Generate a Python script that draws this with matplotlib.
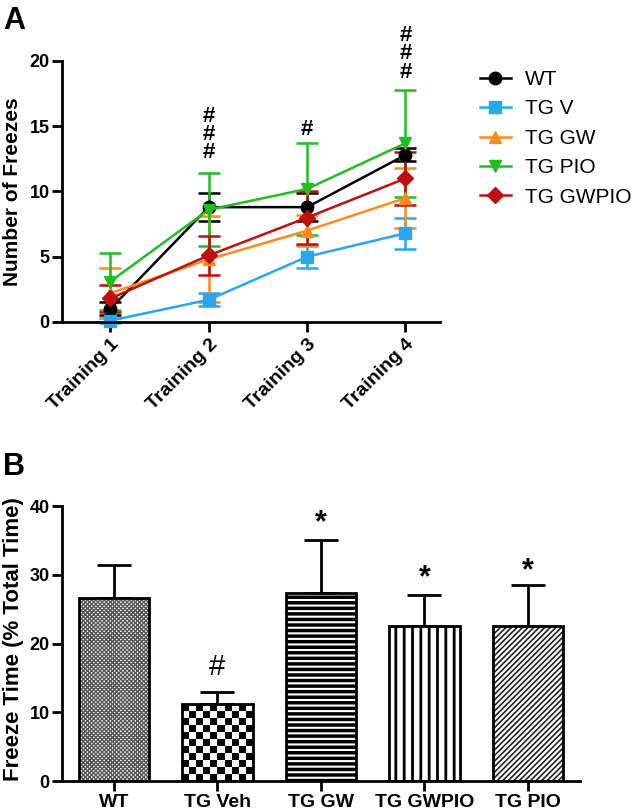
import matplotlib.pyplot as plt
from matplotlib.lines import Line2D
import numpy as np

plt.rcParams['font.family'] = ['Liberation Sans', 'DejaVu Sans']
plt.rcParams['hatch.linewidth'] = 1.0

# panel A data
sessions = ['Training 1', 'Training 2', 'Training 3', 'Training 4']
groups = ['WT', 'TG V', 'TG GW', 'TG PIO', 'TG GWPIO']
wt_mean = [1.0, 8.8, 8.8, 12.8]
wt_err = [0.5, 1.1, 1.1, 0.5]
tgv_mean = [0.1, 1.7, 5.0, 6.8]
tgv_err = [0.2, 0.5, 0.9, 1.2]
tggw_mean = [2.2, 4.8, 7.0, 9.5]
tggw_err = [1.9, 3.3, 1.2, 2.3]
tgpio_mean = [3.1, 8.6, 10.2, 13.7]
tgpio_err = [2.2, 2.8, 3.5, 4.1]
tggwpio_mean = [1.8, 5.1, 8.0, 11.0]
tggwpio_err = [1.0, 1.5, 2.0, 2.0]
hash_counts = [0, 3, 1, 3]
hash_base = [0, 12.9, 14.7, 19.1]

# panel B data
bar_labels = ['WT', 'TG Veh', 'TG GW', 'TG GWPIO', 'TG PIO']
bar_mean = [26.6, 11.2, 27.3, 22.5, 22.5]
bar_err = [4.8, 1.8, 7.8, 4.6, 6.0]
bar_marks = ['', '#', '*', '*', '*']
mark_y = [0, 16.6, 38.7, 30.7, 31.7]

fig = plt.figure(figsize=(6.33, 8.1), dpi=100)

# ---------------- panel A
ax1 = fig.add_axes([0.098, 0.6025, 0.597, 0.3222])
x = np.arange(1, 5)
series = [
    ('WT', wt_mean, wt_err, 'black', 'o', 9),
    ('TG V', tgv_mean, tgv_err, '#2aa6ee', 's', 9),
    ('TG GW', tggw_mean, tggw_err, '#ff8a1c', '^', 9),
    ('TG PIO', tgpio_mean, tgpio_err, '#1ec01e', 'v', 9),
    ('TG GWPIO', tggwpio_mean, tggwpio_err, '#c00f0f', 'D', 8),
]
handles = []
for name, m, e, c, mk, ms in series:
    ax1.errorbar(x, m, yerr=e, color=c, marker=mk, ms=ms, lw=1.8,
                 elinewidth=1.8, capsize=8, capthick=1.8, clip_on=False)
    handles.append(Line2D([], [], color=c, marker=mk, ms=ms, lw=1.8))

# stacked significance marks, one text per time point
for xi, n, yb in zip(x, hash_counts, hash_base):
    if n:
        ax1.text(xi, yb - 0.75, '\n'.join(['#'] * n), ha='center',
                 va='bottom', fontsize=16, fontweight='bold', color='black',
                 linespacing=0.82)

ax1.set_xlim(0.51, 4.35)
ax1.set_ylim(0, 20)
ax1.set_yticks([0, 5, 10, 15, 20])
ax1.set_xticks(x)
ax1.set_xticklabels(sessions, rotation=45, ha='right', rotation_mode='anchor',
                    fontsize=14, fontweight='bold')
for t in ax1.get_yticklabels():
    t.set_fontweight('bold')
    t.set_fontsize(13)
ax1.spines['top'].set_visible(False)
ax1.spines['right'].set_visible(False)
for s in ('left', 'bottom'):
    ax1.spines[s].set_linewidth(2)
ax1.tick_params(width=2, length=7)
ax1.tick_params(axis='y', pad=2)
ax1.tick_params(axis='x', pad=3)
fig.text(0.004, 0.7636, 'Number of Freezes', rotation=90, fontsize=15,
         fontweight='bold', ha='left', va='center')

fig.legend(handles, groups, loc='upper left', bbox_to_anchor=(0.758, 0.9136),
           frameon=False, fontsize=15, handlelength=1.5, handletextpad=0.65,
           labelspacing=0.5, borderaxespad=0, borderpad=0)
fig.text(0.005, 0.993, 'A', fontsize=22, fontweight='bold', va='top')

# ---------------- panel B
ax2 = fig.add_axes([0.098, 0.0358, 0.818, 0.3395])
ax2.set_xlim(-0.5, 4.5)
ax2.set_ylim(0, 40)
xb = np.arange(len(bar_labels))
w = 0.68
hatches = ['xxxxxxxx', None, '---', '||', '//////']
hatch_cols = ['#555555', 'black', 'black', 'black', '#222222']
hatch_lws = [1.0, 1.0, 2.5, 2.0, 1.2]
bars = []
for xi, m, h, hc, hl in zip(xb, bar_mean, hatches, hatch_cols, hatch_lws):
    with plt.rc_context({'hatch.linewidth': hl}):
        b = ax2.bar(xi, m, width=w, color='white', edgecolor=hc, lw=0,
                    hatch=h, zorder=2)[0]
    bars.append(b)

# checkerboard for TG Veh
b = bars[1]
bx0, bw, bh = b.get_x(), b.get_width(), b.get_height()
p0 = ax2.transData.transform((bx0, 0))
p1 = ax2.transData.transform((bx0 + bw, bh))
nx = 10
cell = (p1[0] - p0[0]) / nx
ny = int(round((p1[1] - p0[1]) / cell))
board = (np.add.outer(np.arange(ny), np.arange(nx)) % 2).astype(float)
img = ax2.imshow(board, cmap='gray', extent=(bx0, bx0 + bw, 0, bh),
                 aspect='auto', interpolation='nearest', zorder=2)
img.set_clip_path(b)

ax2.bar(xb, bar_mean, width=w, color='none', edgecolor='black', lw=2, zorder=3)
ax2.errorbar(xb, bar_mean, yerr=[np.zeros(len(bar_err)), bar_err], fmt='none',
             ecolor='black', elinewidth=2, capsize=12.5, capthick=2, zorder=1)
for xi, s, yy in zip(xb, bar_marks, mark_y):
    if s == '*':
        ax2.text(xi, yy - 1.2, s, ha='center', va='center', fontsize=22,
                 fontweight='bold', color='black')
    elif s:
        ax2.text(xi, yy, s, ha='center', va='center', fontsize=21,
                 color='black')

ax2.set_yticks([0, 10, 20, 30, 40])
ax2.set_xticks(xb)
ax2.set_xticklabels(bar_labels, fontsize=14, fontweight='bold')
for t in ax2.get_yticklabels():
    t.set_fontweight('bold')
    t.set_fontsize(13)
ax2.spines['top'].set_visible(False)
ax2.spines['right'].set_visible(False)
for s in ('left', 'bottom'):
    ax2.spines[s].set_linewidth(2)
ax2.tick_params(width=2, length=7)
ax2.tick_params(axis='y', pad=2)
ax2.tick_params(axis='x', pad=2)
fig.text(0.004, 0.211, 'Freeze Time (% Total Time)', rotation=90,
         fontsize=16, fontweight='bold', ha='left', va='center')
fig.text(0.005, 0.442, 'B', fontsize=22, fontweight='bold', va='top')

plt.savefig('out.png', dpi=100)
